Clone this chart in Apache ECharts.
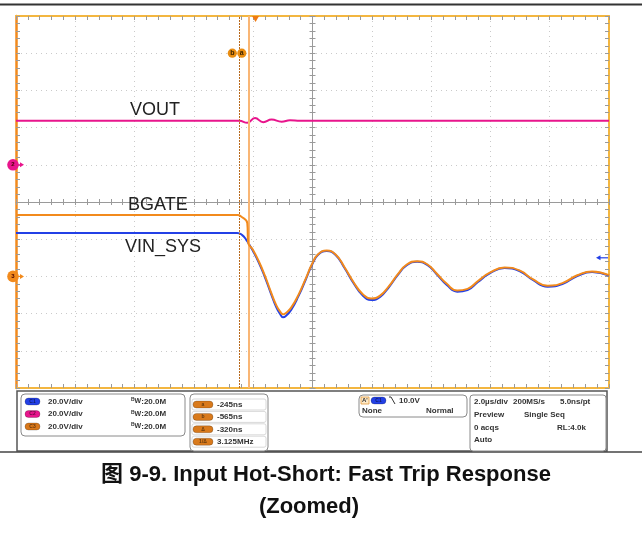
<!DOCTYPE html>
<html><head><meta charset="utf-8">
<script src="https://cdn.jsdelivr.net/npm/echarts@6/dist/echarts.min.js"></script>
<style>html,body{margin:0;padding:0;background:#fff}#c{width:642px;height:533px}</style>
</head><body><div id="c"></div><script>
// Horizontal scale: µs relative to the trigger, 2 µs/div over 10 divisions
const timeMin = -8.08, timeDiv = 2;
// Vertical scales: 20 V/div over 10 divisions (C1/C3 share one offset, C2 has its own)
const ch13Min = -60, ch2Min = -120, voltDiv = 20;

// C1 – VIN_SYS (blue)
const vinTime  = [-8.08, -0.62, -0.45, -0.32, -0.2, -0.1, 0.1, 0.3, 0.5, 0.7, 0.85, 0.93, 1.0, 1.2, 1.45, 1.7, 1.9, 2.1, 2.4, 2.7, 3.0, 3.3, 3.6, 3.9, 4.2, 4.5, 4.8, 5.1, 5.45, 5.8, 6.1, 6.45, 6.8, 7.15, 7.5, 7.9, 8.4, 8.9, 9.35, 9.85, 10.35, 10.85, 11.35, 11.92];
const vinVolts = [23.4, 23.4, 22.2, 19.8, 16.8, 14.0, 7.7, 0.2, -8.4, -16.6, -20.8, -22.0, -21.6, -18.0, -10.5, -1.4, 6.1, 11.5, 13.7, 11.5, 4.5, -3.5, -10.0, -12.7, -11.0, -5.7, 0.8, 6.0, 7.9, 6.0, 1.3, -4.6, -8.2, -7.3, -3.0, 1.6, 4.5, 2.9, -1.9, -5.5, -4.1, 0.2, 2.4, 0.4];
// C3 – BGATE (orange)
const bgateTime  = [-8.08, -0.6, -0.5, -0.28, -0.25, -0.1, 0.1, 0.3, 0.5, 0.7, 0.85, 0.93, 1.0, 1.2, 1.45, 1.7, 1.9, 2.1, 2.4, 2.7, 3.0, 3.3, 3.6, 3.9, 4.2, 4.5, 4.8, 5.1, 5.45, 5.8, 6.1, 6.45, 6.8, 7.15, 7.5, 7.9, 8.4, 8.9, 9.35, 9.85, 10.35, 10.85, 11.35, 11.92];
const bgateVolts = [33.0, 33.0, 32.3, 28.6, 18.2, 14.6, 8.4, 1.0, -7.6, -15.6, -19.4, -20.4, -20.0, -16.8, -9.8, -0.9, 6.5, 11.8, 13.9, 11.8, 4.9, -3.0, -9.3, -11.9, -10.3, -5.2, 1.2, 6.4, 8.2, 6.4, 1.7, -4.0, -7.6, -6.7, -2.5, 2.0, 4.8, 3.2, -1.5, -5.0, -3.6, 0.6, 2.7, 0.7];
// C2 – VOUT (magenta)
const voutTime  = [-8.08, -0.55, -0.28, -0.02, 0.26, 0.54, 0.88, 1.16, 1.5, 11.92];
const voutVolts = [23.7, 23.7, 22.6, 25.1, 22.9, 24.3, 23.2, 23.9, 23.7, 23.7];

// Cursors (µs) and trigger level (V, on C1)
const cursorA = -0.245, cursorB = -0.565, triggerLevel = 10.0;

// Readout panel texts
const channelNames = ['C1', 'C2', 'C3'];
const channelScales = ['20.0V/div', '20.0V/div', '20.0V/div'];
const channelBw = ['20.0M', '20.0M', '20.0M'];
const cursorNames = ['a', 'b', 'Δ', '1/Δ'];
const cursorReadouts = ['-245ns', '-565ns', '-320ns', '3.125MHz'];
const acqRows = [
  [['2.0µs/div', 0], ['200MS/s', 39], ['5.0ns/pt', 86]],
  [['Preview', 0], ['Single Seq', 50]],
  [['0 acqs', 0], ['RL:4.0k', 83]],
  [['Auto', 0]]
];

const C_BLUE = '#2340e6', C_MAG = '#e8158c', C_ORG = '#f28a1c';
const BORDER = '#f3b640', GRIDC = '#cacaca', AXC = '#9a9a9a';
const FONT = 'Liberation Sans, Arial, Noto Sans CJK SC, sans-serif';

const pair = (t, v) => t.map((x, i) => [x, v[i]]);
const hideLbl = { show: false };

function line(color, width, show) {
  return { show: show !== false, onZero: false, lineStyle: { color: color, width: width } };
}
function xAx(extra) {
  return Object.assign({
    type: 'value', min: timeMin, max: timeMin + 10 * timeDiv, interval: timeDiv,
    axisLabel: hideLbl, splitLine: { show: false },
    axisTick: { show: true, inside: true, length: 4, lineStyle: { color: AXC } },
    minorTick: { show: true, splitNumber: 5, length: 4, lineStyle: { color: AXC } }
  }, extra);
}
function yAx(min, extra) {
  return Object.assign({
    type: 'value', min: min, max: min + 10 * voltDiv, interval: voltDiv,
    axisLabel: hideLbl, splitLine: { show: false },
    axisTick: { show: true, inside: true, length: 4, lineStyle: { color: AXC } },
    minorTick: { show: true, splitNumber: 5, length: 4, lineStyle: { color: AXC } }
  }, extra);
}
const dotted = { show: true, lineStyle: { color: GRIDC, type: [1, 4], width: 1 } };
const tickOut = { show: true, inside: false, length: 3, lineStyle: { color: AXC } };
const tickIn = { show: true, inside: true, length: 3, lineStyle: { color: AXC } };
const minor3 = { show: true, splitNumber: 5, length: 3, lineStyle: { color: AXC } };

const chart = echarts.init(document.getElementById('c'), null, { renderer: 'canvas' });

const option = {
  animation: false,
  backgroundColor: '#fff',
  grid: { left: 16, top: 16, width: 593, height: 372, containLabel: false },
  xAxis: [
    xAx({ position: 'bottom', splitLine: dotted, axisLine: line(BORDER, 2) }),
    xAx({ position: 'top', axisLine: line(BORDER, 2) }),
    // centre horizontal graticule line, ticks on both sides
    xAx({ position: 'bottom', offset: -186, axisLine: line(AXC, 1), axisTick: tickOut, minorTick: minor3 }),
    xAx({ position: 'bottom', offset: -186, axisLine: line(AXC, 1, false), axisTick: tickIn, minorTick: minor3 })
  ],
  yAxis: [
    yAx(ch13Min, { position: 'left', splitLine: dotted, axisLine: line(C_ORG, 2.5) }),
    yAx(ch2Min, { position: 'right', axisLine: line(BORDER, 2) }),
    // centre vertical graticule line, ticks on both sides
    yAx(ch13Min, { position: 'left', offset: -296.5, axisLine: line(AXC, 1), axisTick: tickOut, minorTick: minor3 }),
    yAx(ch13Min, { position: 'left', offset: -296.5, axisLine: line(AXC, 1, false), axisTick: tickIn, minorTick: minor3 })
  ],
  series: [
    {
      name: 'VOUT', type: 'line', xAxisIndex: 0, yAxisIndex: 1, data: pair(voutTime, voutVolts),
      showSymbol: false, smooth: 0.5, lineStyle: { color: C_MAG, width: 2 }, z: 3,
      markLine: {
        silent: true, symbol: 'none', label: { show: false },
        data: [
          { xAxis: cursorB, lineStyle: { color: '#b8691c', width: 1, type: [2, 1] } },
          { xAxis: cursorA, lineStyle: { color: '#f9b675', width: 2, type: 'solid' } }
        ]
      }
    },
    {
      name: 'VIN_SYS', type: 'line', xAxisIndex: 0, yAxisIndex: 0, data: pair(vinTime, vinVolts),
      showSymbol: false, smooth: 0.5, lineStyle: { color: C_BLUE, width: 2 }, z: 4
    },
    {
      name: 'BGATE', type: 'line', xAxisIndex: 0, yAxisIndex: 0, data: pair(bgateTime, bgateVolts),
      showSymbol: false, smooth: 0.5, lineStyle: { color: C_ORG, width: 2 }, z: 5
    }
  ]
};
chart.setOption(option);

// ---- overlay: trace labels, markers, readout panel, caption ----
const g = [];
const txt = (x, y, s, o) => g.push({ type: 'text', x, y,
  style: Object.assign({ text: s, font: 'bold 8px ' + FONT, fill: '#333', textVerticalAlign: 'middle' }, o || {}) });

// trace names
g.push({ type: 'text', x: 130, y: 110, style: { text: 'VOUT', font: '18px ' + FONT, fill: '#222', textVerticalAlign: 'middle' } });
g.push({ type: 'text', x: 128, y: 205, style: { text: 'BGATE', font: '18px ' + FONT, fill: '#222', textVerticalAlign: 'middle' } });
g.push({ type: 'text', x: 125, y: 247, style: { text: 'VIN_SYS', font: '18px ' + FONT, fill: '#222', textVerticalAlign: 'middle' } });

// cursor badges
const yBadge = chart.convertToPixel({ yAxisIndex: 0 }, 120);
[[cursorB, 'b'], [cursorA, 'a']].forEach(([t, s]) => {
  const x = chart.convertToPixel({ xAxisIndex: 0 }, t) - 6.5;
  g.push({ type: 'circle', shape: { cx: x, cy: yBadge, r: 4.6 }, style: { fill: '#e98d12' } });
  g.push({ type: 'text', x: x, y: yBadge, style: { text: s, font: 'bold 7px ' + FONT, fill: '#3a2200', textAlign: 'center', textVerticalAlign: 'middle' } });
});

// trigger position marker (top)
const xTrig = chart.convertToPixel({ xAxisIndex: 0 }, 0);
g.push({ type: 'polygon', shape: { points: [[xTrig - 3.5, 16], [xTrig + 3.5, 16], [xTrig, 22]] }, style: { fill: '#f07a10' } });

// channel ground markers (left)
function gndMarker(y, label, col) {
  g.push({ type: 'line', shape: { x1: 14, y1: y, x2: 22, y2: y }, style: { stroke: col, lineWidth: 1.2 } });
  g.push({ type: 'polygon', shape: { points: [[20, y - 2.5], [24, y], [20, y + 2.5]] }, style: { fill: col } });
  g.push({ type: 'circle', shape: { cx: 13, cy: y, r: 5.8 }, style: { fill: col } });
  g.push({ type: 'text', x: 13, y: y, style: { text: label, font: 'bold 6px ' + FONT, fill: '#400', textAlign: 'center', textVerticalAlign: 'middle' } });
}
gndMarker(chart.convertToPixel({ yAxisIndex: 1 }, 0), '2', C_MAG);
gndMarker(chart.convertToPixel({ yAxisIndex: 0 }, 0), '3', C_ORG);

// trigger level marker (right)
const yLvl = chart.convertToPixel({ yAxisIndex: 0 }, triggerLevel);
g.push({ type: 'line', shape: { x1: 599, y1: yLvl, x2: 608, y2: yLvl }, style: { stroke: C_BLUE, lineWidth: 1.2 } });
g.push({ type: 'polygon', shape: { points: [[596, yLvl], [600.5, yLvl - 2.5], [600.5, yLvl + 2.5]] }, style: { fill: C_BLUE } });

// frame lines
g.push({ type: 'line', shape: { x1: 0, y1: 4.5, x2: 642, y2: 4.5 }, style: { stroke: '#333', lineWidth: 2 } });
g.push({ type: 'rect', shape: { x: 17, y: 391, width: 590, height: 60 }, style: { fill: '#fff', stroke: '#555', lineWidth: 1.5 } });
g.push({ type: 'line', shape: { x1: 0, y1: 452, x2: 642, y2: 452 }, style: { stroke: '#444', lineWidth: 1.5 } });

// pill helper
function pill(x, y, w, col, label) {
  g.push({ type: 'rect', shape: { x: x, y: y - 3.5, width: w, height: 7, r: 3.5 }, style: { fill: col, stroke: 'rgba(0,0,0,0.35)', lineWidth: 0.6 } });
  g.push({ type: 'text', x: x + w / 2, y: y, style: { text: label, font: 'bold 5px ' + FONT, fill: 'rgba(0,0,0,0.55)', textAlign: 'center', textVerticalAlign: 'middle' } });
}

// channel box
g.push({ type: 'rect', shape: { x: 21, y: 394, width: 164, height: 42, r: 4 }, style: { fill: '#fff', stroke: '#8a8a8a', lineWidth: 1 } });
const chCols = [C_BLUE, C_MAG, '#d9781a'];
channelNames.forEach((n, i) => {
  const y = 401.5 + i * 12.5;
  pill(25, y, 15, chCols[i], n);
  txt(48, y, channelScales[i]);
  txt(131, y, '{b|B}{w|W}:' + channelBw[i], { rich: { b: { font: 'bold 5px ' + FONT, fill: '#333', verticalAlign: 'top' }, w: { font: 'bold 7px ' + FONT, fill: '#333' } } });
});

// cursor box
g.push({ type: 'rect', shape: { x: 190, y: 394, width: 78, height: 57, r: 4 }, style: { fill: '#fff', stroke: '#8a8a8a', lineWidth: 1 } });
cursorNames.forEach((n, i) => {
  const y = 404.5 + i * 12.4;
  g.push({ type: 'rect', shape: { x: 192, y: y - 5.5, width: 74, height: 11, r: 2 }, style: { fill: 'none', stroke: '#cfcfcf', lineWidth: 0.8 } });
  pill(193, y, 20, '#d97a1c', n);
  txt(217, y, cursorReadouts[i]);
});

// trigger box
g.push({ type: 'rect', shape: { x: 359, y: 395, width: 108, height: 22, r: 4 }, style: { fill: '#fff', stroke: '#8a8a8a', lineWidth: 1 } });
g.push({ type: 'rect', shape: { x: 361, y: 397, width: 8, height: 7 }, style: { fill: '#fde9c8', stroke: '#e39a3a', lineWidth: 0.8 } });
txt(362, 400.5, "A'", { font: 'bold 6px ' + FONT });
pill(371, 400.5, 15, C_BLUE, 'C1');
g.push({ type: 'polyline', shape: { points: [[389, 397], [391, 397], [395, 404]] }, style: { stroke: '#333', lineWidth: 1, fill: 'none' } });
txt(399, 400.5, triggerLevel.toFixed(1) + 'V');
txt(362, 411, 'None');
txt(426, 411, 'Normal');

// acquisition box
g.push({ type: 'rect', shape: { x: 470, y: 395, width: 136, height: 56, r: 3 }, style: { fill: '#fff', stroke: '#8a8a8a', lineWidth: 1 } });
acqRows.forEach((row, i) => row.forEach(([s, dx]) => txt(474 + dx, 402 + i * 12.7, s)));

// caption
g.push({ type: 'text', x: 326, y: 475, style: { text: '图 9-9. Input Hot-Short: Fast Trip Response', font: 'bold 22px ' + FONT, fill: '#111', textAlign: 'center', textVerticalAlign: 'middle' } });
g.push({ type: 'text', x: 309, y: 507, style: { text: '(Zoomed)', font: 'bold 22px ' + FONT, fill: '#111', textAlign: 'center', textVerticalAlign: 'middle' } });

chart.setOption({ graphic: { elements: g.map(e => Object.assign({ silent: true, z: 100 }, e)) } });
</script></body></html>
